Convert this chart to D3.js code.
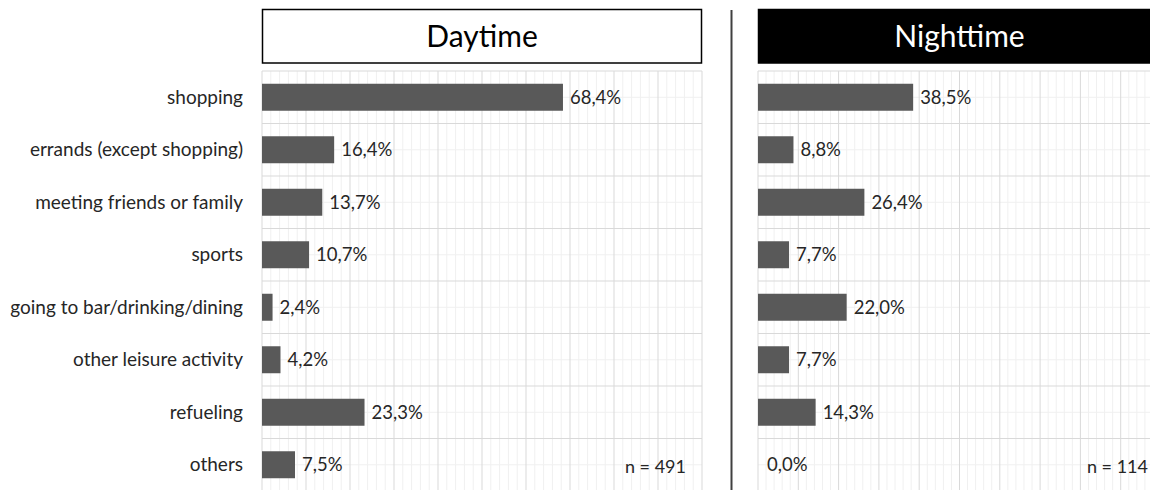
<!DOCTYPE html>
<html><head><meta charset="utf-8">
<script src="https://cdn.jsdelivr.net/npm/d3@7"></script>
<style>body{margin:0;background:#fff;} svg{display:block;}</style>
</head><body>
<svg id="chart" width="1150" height="490"></svg>
<script>
const categories = ["shopping","errands (except shopping)","meeting friends or family","sports","going to bar/drinking/dining","other leisure activity","refueling","others"];
const dayValues = [68.4,16.4,13.7,10.7,2.4,4.2,23.3,7.5];
const nightValues = [38.5,8.8,26.4,7.7,22.0,7.7,14.3,0.0];
const panelTitles = ["Daytime","Nighttime"];
const sampleSizes = [491,114];

const FONT = "Lato, 'Open Sans', sans-serif";
const svg = d3.select("#chart");
const loc = d3.formatLocale({decimal:",",thousands:".",grouping:[3],currency:["","€"]});
const fmt = v => loc.format(".1f")(v) + "%";

const y = d3.scaleBand(categories,[71,491]).paddingInner(0.486).paddingOuter(0.243);
const step = y.step();

const panels = [
  {title:panelTitles[0], values:dayValues, n:sampleSizes[0], x:d3.scaleLinear([0,100],[262,702]), dark:false, nRight:686},
  {title:panelTitles[1], values:nightValues, n:sampleSizes[1], x:d3.scaleLinear([0,100],[758,1161]), dark:true, nRight:1148}
];

// category labels
svg.append("g").selectAll("text").data(categories).join("text")
  .attr("x",243).attr("y",d=>y(d)+y.bandwidth()/2).attr("dy","0.35em")
  .attr("text-anchor","end").attr("font-family",FONT).attr("font-size",19).attr("fill","#262626")
  .text(d=>d);

// divider
svg.append("line").attr("x1",731.5).attr("x2",731.5).attr("y1",10).attr("y2",490)
  .attr("stroke","#404040").attr("stroke-width",2);

panels.forEach(p=>{
  const g = svg.append("g");
  const [x0,x1] = p.x.range();
  const yTop = y.range()[0], yBot = y.range()[1];
  g.append("g").selectAll("line").data(d3.range(0,101,2).filter(v=>v%10!==0)).join("line")
    .attr("x1",d=>p.x(d)).attr("x2",d=>p.x(d)).attr("y1",yTop).attr("y2",yBot)
    .attr("stroke","#f0f0f0").attr("stroke-width",1);
  g.append("g").selectAll("line").data(categories).join("line")
    .attr("x1",x0).attr("x2",x1).attr("y1",d=>y(d)+y.bandwidth()/2).attr("y2",d=>y(d)+y.bandwidth()/2)
    .attr("stroke","#f0f0f0").attr("stroke-width",1);
  g.append("g").selectAll("line").data(d3.range(0,101,10)).join("line")
    .attr("x1",d=>p.x(d)).attr("x2",d=>p.x(d)).attr("y1",yTop).attr("y2",yBot)
    .attr("stroke","#d9d9d9").attr("stroke-width",1);
  g.append("g").selectAll("line").data(d3.range(0,categories.length+1)).join("line")
    .attr("x1",x0).attr("x2",x1).attr("y1",d=>yTop+d*step).attr("y2",d=>yTop+d*step)
    .attr("stroke","#d9d9d9").attr("stroke-width",1);
  g.append("g").selectAll("rect").data(p.values).join("rect")
    .attr("x",x0).attr("y",(d,i)=>y(categories[i]))
    .attr("width",d=>p.x(d)-x0).attr("height",y.bandwidth())
    .attr("fill","#595959");
  g.append("g").selectAll("text").data(p.values).join("text")
    .attr("x",d=>p.x(d)+(d===0?9:7)).attr("y",(d,i)=>y(categories[i])+y.bandwidth()/2).attr("dy","0.35em")
    .attr("font-family",FONT).attr("font-size",18.5).attr("fill","#262626")
    .text(d=>fmt(d));
  g.append("text").attr("x",p.nRight).attr("y",yTop+7.5*step+2).attr("dy","0.35em")
    .attr("text-anchor","end").attr("font-family",FONT).attr("font-size",18).attr("fill","#262626")
    .text("n = "+p.n);
  g.append("rect").attr("x",x0+0.5).attr("y",9.5).attr("width",x1-x0-1).attr("height",53.5)
    .attr("fill",p.dark?"#000":"#fff").attr("stroke","#000").attr("stroke-width",1.5);
  g.append("text").attr("x",(x0+x1)/2).attr("y",36).attr("dy","0.35em")
    .attr("text-anchor","middle").attr("font-family",FONT).attr("font-size",30)
    .attr("fill",p.dark?"#fff":"#000").text(p.title);
});
</script>
</body></html>
